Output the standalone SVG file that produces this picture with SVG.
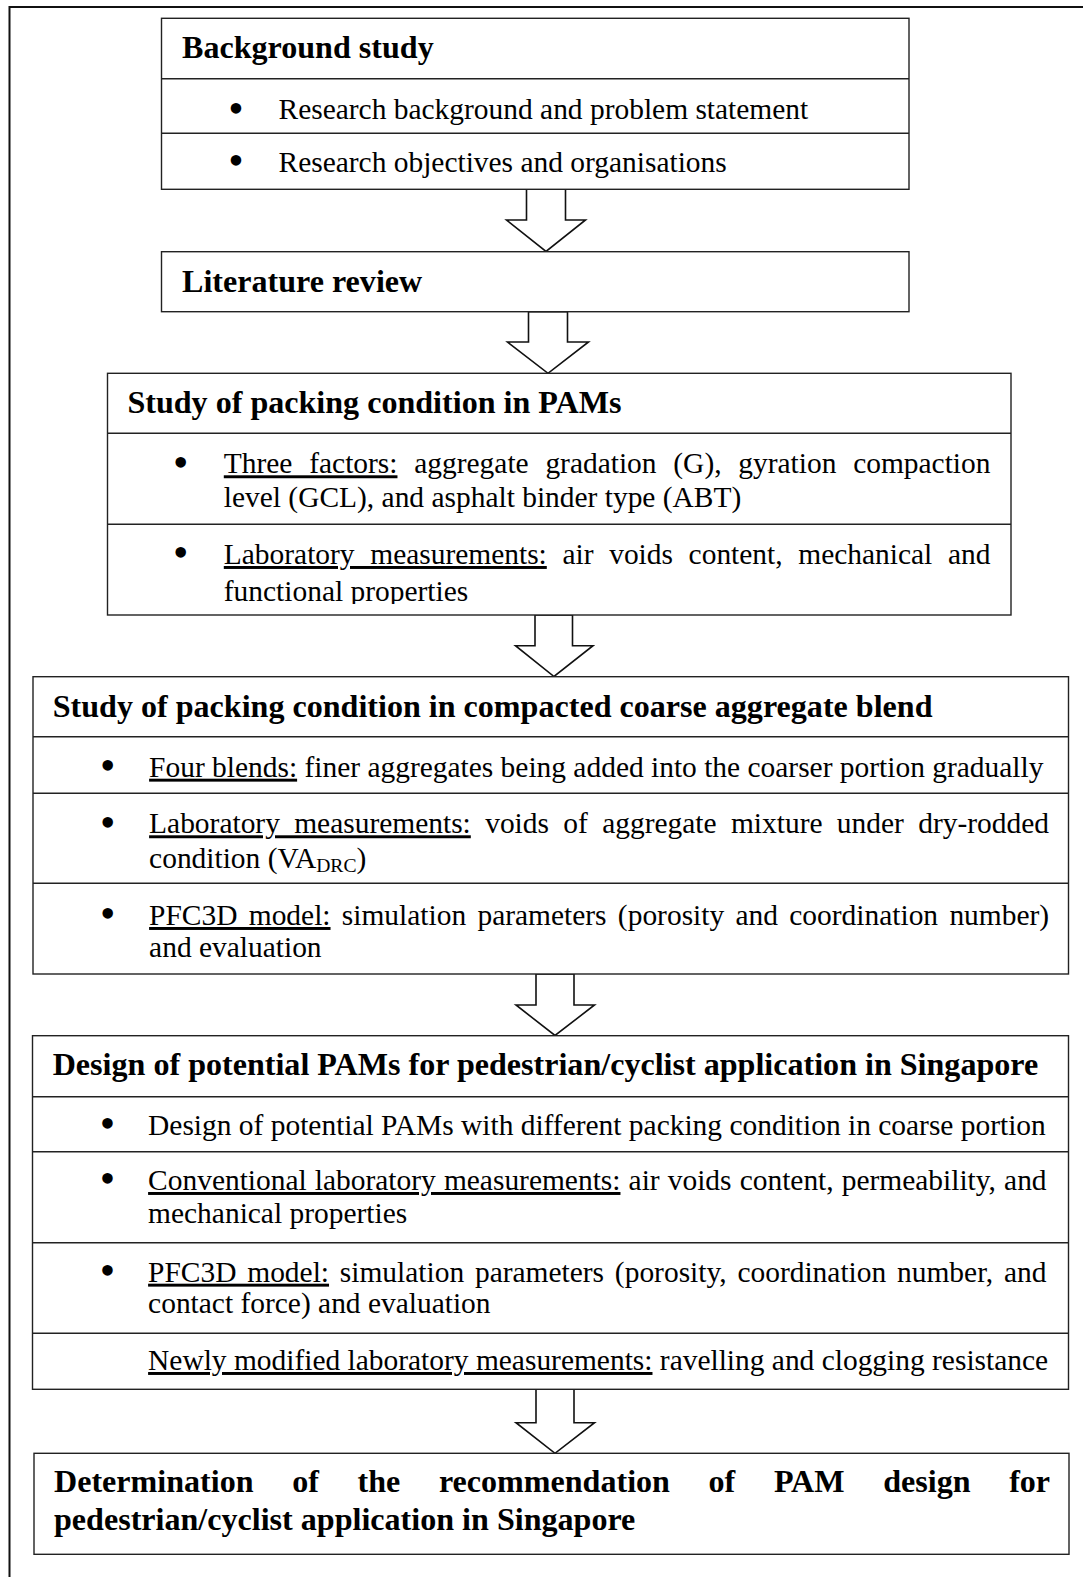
<svg xmlns="http://www.w3.org/2000/svg" width="1083" height="1577" viewBox="0 0 1083 1577">
<style>
.box{fill:#fff;stroke:#222;stroke-width:1.4}
.div{stroke:#222;stroke-width:1.4}
.arr{fill:#fff;stroke:#111;stroke-width:1.6;stroke-linejoin:miter}
text{font-family:"Liberation Serif","Times New Roman",serif;fill:#000}
.t{font-size:32.1px;font-weight:bold}
.b{font-size:29.45px}
.u{text-decoration:underline}
.bul{font-size:44px;text-anchor:middle}
</style>
<defs>
<clipPath id="clipPams"><rect x="107" y="524" width="904" height="80"/></clipPath>
</defs>
<rect width="1083" height="1577" fill="#fff"/>
<path d="M9.5,1577 V7 H1083" fill="none" stroke="#111" stroke-width="2"/>

<g id="connectors">
<polygon class="arr" points="526.5,189.3 565.5,189.3 565.5,220 585.5,220 546,251.5 506.5,220 526.5,220"/>
<polygon class="arr" points="528.5,311.7 567.5,311.7 567.5,342 588.5,342 548,373.3 507.5,342 528.5,342"/>
<polygon class="arr" points="535,615 572.5,615 572.5,645.7 593,645.7 554,676.5 515.5,645.7 535,645.7"/>
<polygon class="arr" points="536,974 574,974 574,1005 594.5,1005 555,1035.5 516,1005 536,1005"/>
<polygon class="arr" points="536,1389.3 574,1389.3 574,1422.7 594.5,1422.7 555,1453.3 516,1422.7 536,1422.7"/>
</g>

<g id="background-study">
<rect class="box" x="161.5" y="18.3" width="747.5" height="171"/>
<line class="div" x1="161.5" y1="78.7" x2="909" y2="78.7"/>
<line class="div" x1="161.5" y1="133.3" x2="909" y2="133.3"/>
<text class="t" x="182" y="58.3">Background study</text>
<text class="bul" x="236" y="122.5">•</text>
<text class="b" x="278.5" y="119.3">Research background and problem statement</text>
<text class="bul" x="236" y="174.9">•</text>
<text class="b" x="278.5" y="171.7">Research objectives and organisations</text>
</g>

<g id="literature-review">
<rect class="box" x="161.5" y="251.7" width="747.5" height="60"/>
<text class="t" x="182" y="291.7">Literature review</text>
</g>

<g id="packing-pams">
<rect class="box" x="107.5" y="373.3" width="903.5" height="241.7"/>
<line class="div" x1="107.5" y1="433.3" x2="1011" y2="433.3"/>
<line class="div" x1="107.5" y1="524.3" x2="1011" y2="524.3"/>
<text class="t" x="127.4" y="412.7">Study of packing condition in PAMs</text>
<text class="bul" x="180.8" y="476.5">•</text>
<text class="b" x="223.8" y="473.3" style="word-spacing:9.4px"><tspan class="u">Three factors:</tspan> aggregate gradation (G), gyration compaction</text>
<text class="b" x="223.8" y="506.7">level (GCL), and asphalt binder type (ABT)</text>
<text class="bul" x="180.8" y="567.2">•</text>
<text class="b" x="223.8" y="564" style="word-spacing:8.3px"><tspan class="u">Laboratory measurements:</tspan> air voids content, mechanical and</text>
<text class="b" x="223.8" y="600.7" clip-path="url(#clipPams)">functional properties</text>
</g>

<g id="packing-blend">
<rect class="box" x="33" y="676.7" width="1035.5" height="297.3"/>
<line class="div" x1="33" y1="736.7" x2="1068.5" y2="736.7"/>
<line class="div" x1="33" y1="793.3" x2="1068.5" y2="793.3"/>
<line class="div" x1="33" y1="883.3" x2="1068.5" y2="883.3"/>
<text class="t" x="52.7" y="716.7">Study of packing condition in compacted coarse aggregate blend</text>
<text class="bul" x="107.8" y="779.9">•</text>
<text class="b" x="149.1" y="776.7"><tspan class="u">Four blends:</tspan> finer aggregates being added into the coarser portion gradually</text>
<text class="bul" x="107.8" y="836.5">•</text>
<text class="b" x="149.1" y="833.3" style="word-spacing:7.0px"><tspan class="u">Laboratory measurements:</tspan> voids of aggregate mixture under dry-rodded</text>
<text class="b" x="149.1" y="868.3">condition (VA<tspan font-size="19.6px" dy="4">DRC</tspan><tspan dy="-4">)</tspan></text>
<text class="bul" x="107.8" y="928.2">•</text>
<text class="b" x="149.1" y="925" style="word-spacing:3.95px"><tspan class="u">PFC3D model:</tspan> simulation parameters (porosity and coordination number)</text>
<text class="b" x="149.1" y="956.7">and evaluation</text>
</g>

<g id="design-pams">
<rect class="box" x="32.5" y="1035.7" width="1036" height="353.6"/>
<line class="div" x1="32.5" y1="1096.7" x2="1068.5" y2="1096.7"/>
<line class="div" x1="32.5" y1="1151.7" x2="1068.5" y2="1151.7"/>
<line class="div" x1="32.5" y1="1242.7" x2="1068.5" y2="1242.7"/>
<line class="div" x1="32.5" y1="1333.3" x2="1068.5" y2="1333.3"/>
<text class="t" x="52.7" y="1075">Design of potential PAMs for pedestrian/cyclist application in Singapore</text>
<text class="bul" x="107.4" y="1138.2">•</text>
<text class="b" x="148.1" y="1135">Design of potential PAMs with different packing condition in coarse portion</text>
<text class="bul" x="107.4" y="1193.2">•</text>
<text class="b" x="148.1" y="1190" style="word-spacing:0.75px"><tspan class="u">Conventional laboratory measurements:</tspan> air voids content, permeability, and</text>
<text class="b" x="148.1" y="1222.7">mechanical properties</text>
<text class="bul" x="107.4" y="1284.9">•</text>
<text class="b" x="148.1" y="1281.7" style="word-spacing:3.45px"><tspan class="u">PFC3D model:</tspan> simulation parameters (porosity, coordination number, and</text>
<text class="b" x="148.1" y="1313.3">contact force) and evaluation</text>
<text class="b" x="148.1" y="1370"><tspan class="u">Newly modified laboratory measurements:</tspan> ravelling and clogging resistance</text>
</g>

<g id="recommendation">
<rect class="box" x="34" y="1453.3" width="1035" height="101"/>
<text class="t" x="54" y="1491.7" style="word-spacing:30.6px">Determination of the recommendation of PAM design for</text>
<text class="t" x="54" y="1530">pedestrian/cyclist application in Singapore</text>
</g>
</svg>
